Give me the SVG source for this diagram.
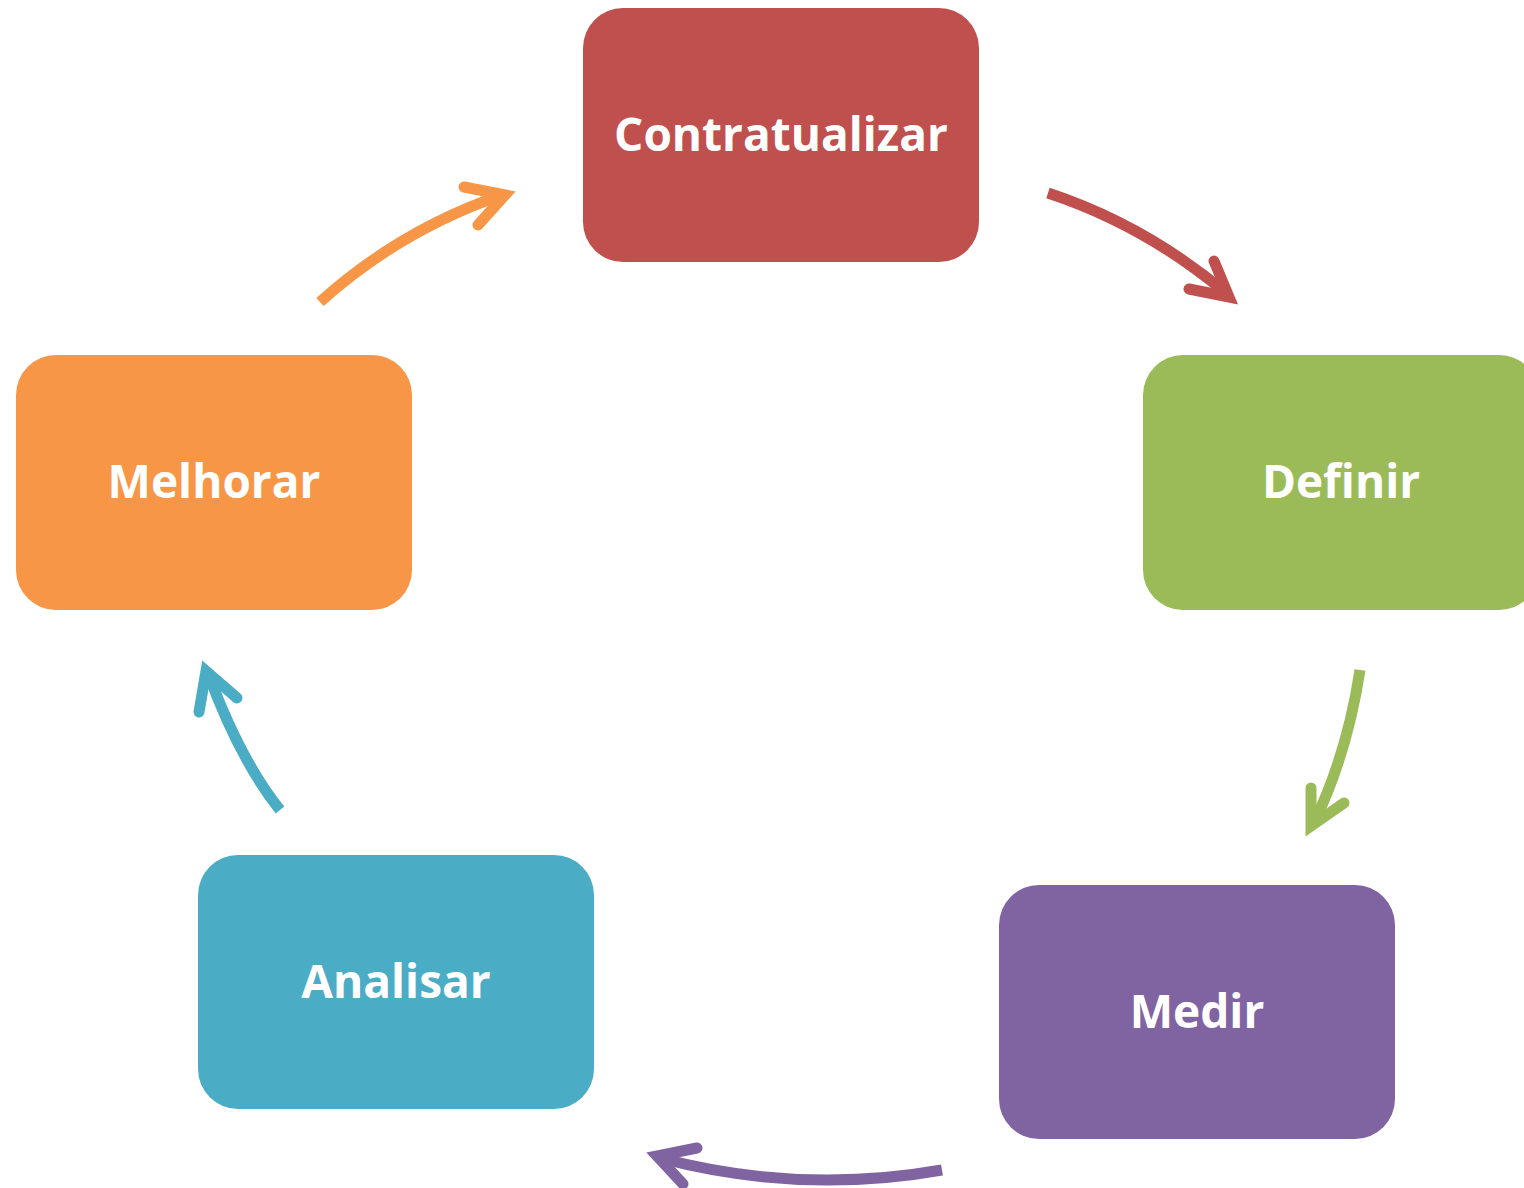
<svg xmlns="http://www.w3.org/2000/svg" width="1524" height="1188" viewBox="0 0 1524 1188">
<style>
.box{stroke:none}
.lbl{font-family:"Open Sans","Liberation Sans",sans-serif;font-weight:700;font-size:46px;fill:#ffffff;text-anchor:middle}
.shaft{fill:none;stroke-width:11;stroke-linecap:butt}
.head{fill:none;stroke-width:11;stroke-linecap:round;stroke-linejoin:miter;stroke-miterlimit:10}
</style>
<rect width="1524" height="1188" fill="#ffffff"/>
<g id="node-contratualizar"><rect class="box" x="583" y="8" width="396" height="254" rx="40" fill="#C0504D"/><text class="lbl" x="781" y="151">Contratualizar</text></g>
<g id="node-definir"><rect class="box" x="1143" y="355" width="396" height="255" rx="40" fill="#9BBB59"/><text class="lbl" x="1341" y="498">Definir</text></g>
<g id="node-medir"><rect class="box" x="999" y="885" width="396" height="254" rx="40" fill="#8064A2"/><text class="lbl" x="1197" y="1028">Medir</text></g>
<g id="node-analisar"><rect class="box" x="198" y="855" width="396" height="254" rx="40" fill="#4BACC6"/><text class="lbl" x="396" y="998">Analisar</text></g>
<g id="node-melhorar"><rect class="box" x="16" y="355" width="396" height="255" rx="40" fill="#F79646"/><text class="lbl" x="214" y="498">Melhorar</text></g>
<g id="connectors">
<path class="shaft" stroke="#C0504D" d="M1048,193 Q1145,225 1226,293"/>
<polyline class="head" stroke="#C0504D" points="1214,261 1229,297 1189,289"/>
<path class="shaft" stroke="#9BBB59" d="M1360,670 Q1347,755 1313,825"/>
<polyline class="head" stroke="#9BBB59" points="1311,788 1311,826 1344,803"/>
<path class="shaft" stroke="#8064A2" d="M942,1170 Q800,1195 660,1158"/>
<polyline class="head" stroke="#8064A2" points="697,1148 657,1156 683,1184"/>
<path class="shaft" stroke="#4BACC6" d="M280,810 Q240,760 208,673"/>
<polyline class="head" stroke="#4BACC6" points="199,712 206,671 237,698"/>
<path class="shaft" stroke="#F79646" d="M320,302 Q400,230 502,195"/>
<polyline class="head" stroke="#F79646" points="464,187 505,195 478,225"/>
</g>
</svg>
